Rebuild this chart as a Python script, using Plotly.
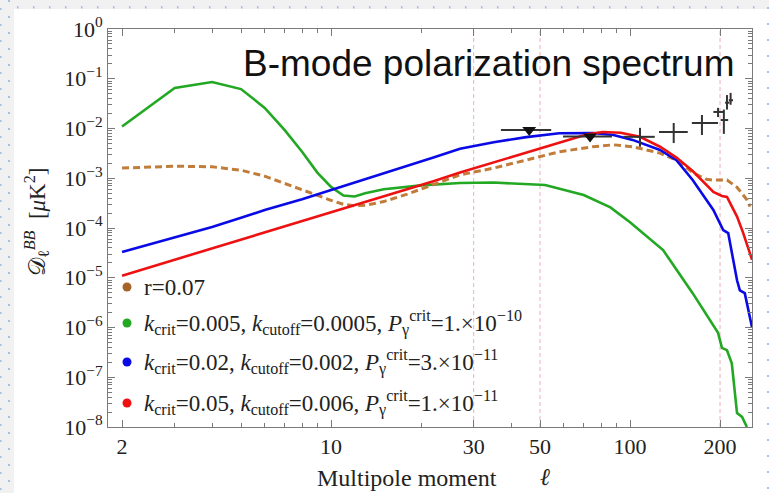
import plotly.graph_objects as go

# ---------------- data ----------------
ell_r = [2, 3, 4, 5, 6, 7, 8, 9, 10, 11, 12, 13, 15, 18, 22, 27, 35, 45, 58, 75, 88, 102,
         126, 143, 162, 180, 190, 211, 228, 246, 252]
dl_r = [1.6e-3, 1.75e-3, 1.7e-3, 1.45e-3, 1.1e-3, 7.8e-4, 5.8e-4, 4.4e-4, 3.6e-4, 3.0e-4,
        2.8e-4, 2.85e-4, 3.4e-4, 4.8e-4, 7.5e-4, 1.17e-3, 1.6e-3, 2.3e-3, 3.4e-3, 4.3e-3,
        4.7e-3, 4.3e-3, 3.2e-3, 2.3e-3, 1.3e-3, 9.5e-4, 9.2e-4, 9.2e-4, 6.6e-4, 3.7e-4, 2.7e-4]

ell_green = [2, 3, 4, 5, 6, 7, 8, 9, 10, 11, 12, 13, 15, 20, 27, 35, 52, 70, 86, 100, 129,
             162, 197, 203, 211, 219, 228, 237, 246]
dl_green = [1.1e-2, 6.5e-2, 8.6e-2, 6.2e-2, 2.6e-2, 9.3e-3, 3.4e-3, 1.3e-3, 6.7e-4, 4.5e-4,
            4.3e-4, 5.0e-4, 6.0e-4, 7.2e-4, 8.0e-4, 8.2e-4, 7.3e-4, 4.6e-4, 2.6e-4, 1.3e-4,
            3.6e-5, 4.9e-6, 7.8e-7, 3.9e-7, 3.5e-7, 1.9e-7, 1.9e-8, 1.6e-8, 1.0e-8]

ell_blue = [2, 3, 4, 5, 6, 8, 10, 13, 17, 22, 27, 35, 45, 58, 75, 88, 102, 126, 143, 162,
            190, 205, 213, 221, 228, 233, 242, 256]
dl_blue = [3.3e-5, 6.4e-5, 1.05e-4, 1.6e-4, 2.3e-4, 3.8e-4, 5.8e-4, 9.5e-4, 1.55e-3, 2.6e-3,
           3.9e-3, 5.3e-3, 6.7e-3, 8.0e-3, 8.1e-3, 7.4e-3, 5.9e-3, 3.7e-3, 2.3e-3, 9.2e-4,
           2.3e-4, 9.1e-5, 7.9e-5, 2.6e-5, 8.9e-6, 5.6e-6, 4.9e-6, 1.0e-6]

ell_red = [2, 3, 4, 5, 6, 8, 10, 13, 17, 22, 27, 35, 45, 58, 72, 81, 93, 108, 126, 143, 162,
           190, 203, 211, 228, 239, 256]
dl_red = [1.1e-5, 2.3e-5, 3.9e-5, 6.0e-5, 8.3e-5, 1.4e-4, 2.1e-4, 3.3e-4, 5.5e-4, 8.7e-4,
          1.3e-3, 2.1e-3, 3.3e-3, 5.3e-3, 7.7e-3, 8.5e-3, 8.2e-3, 6.8e-3, 4.3e-3, 2.6e-3,
          1.4e-3, 5.3e-4, 4.4e-4, 4.2e-4, 1.7e-4, 8e-5, 2.3e-5]

# measured band powers (upper limits drawn as down triangles)
obs_ell = [46, 73.5, 108, 140, 174, 197, 206, 211, 217]
obs_ell_lo = [37, 59.7, 95, 125, 161, 190, 201, 208, 214]
obs_ell_hi = [54.5, 87, 121, 156, 197, 205, 213, 215, 221]
obs_dl = [9.3e-3, 6.9e-3, 6.8e-3, 8.5e-3, 1.29e-2, 2.15e-2, 1.48e-2, 3.3e-2, 3.7e-2]
obs_dl_lo = [None, None, 4.3e-3, 5.1e-3, 7.4e-3, 1.7e-2, 7.8e-3, 2.4e-2, 3.0e-2]
obs_dl_hi = [None, None, 1.03e-2, 1.29e-2, 1.87e-2, 2.6e-2, 2.4e-2, 4.7e-2, 5.2e-2]
obs_upper_limit = [True, True, False, False, False, False, False, False, False]

cut_ell = [30, 50, 200]

legend_labels = [
    "r=0.07",
    "<i>k</i><sub>crit</sub>=0.005, <i>k</i><sub>cutoff</sub>=0.0005, "
    "<i>P</i><sub>γ</sub><sup>crit</sup>=1.×10<sup>−10</sup>",
    "<i>k</i><sub>crit</sub>=0.02, <i>k</i><sub>cutoff</sub>=0.002, "
    "<i>P</i><sub>γ</sub><sup>crit</sup>=3.×10<sup>−11</sup>",
    "<i>k</i><sub>crit</sub>=0.05, <i>k</i><sub>cutoff</sub>=0.006, "
    "<i>P</i><sub>γ</sub><sup>crit</sup>=1.×10<sup>−11</sup>",
]

x_tick_vals = [2, 10, 30, 50, 100, 200]
x_tick_text = ["2", "10", "30", "50", "100", "200"]
y_exponents = [-8, -7, -6, -5, -4, -3, -2, -1, 0]

# ---------------- styling ----------------
W, H = 769, 493
ML, MR, MT, MB = 108, 17, 29, 66
PW, PH = W - ML - MR, H - MT - MB

C_BROWN = "#c27c3a"
C_GREEN = "#22a822"
C_BLUE = "#0a0ae6"
C_RED = "#ee1111"
DOT_COLORS = ["#a5652a", "#22a822", "#0a0ae6", "#ee1111"]
SERIF = "Liberation Serif, Times New Roman, serif"
AX_COL = "#7a7a7a"


def px_x(p):
    return (p - ML) / PW


def px_y(p):
    return (H - MB - p) / PH


fig = go.Figure()

# vertical reference lines
for c in cut_ell:
    fig.add_trace(go.Scatter(x=[c, c], y=[1e-8, 1], mode="lines",
                             line=dict(color="#eab0b8", width=1, dash="4px,3px"),
                             hoverinfo="skip", showlegend=False))

fig.add_trace(go.Scatter(x=ell_green, y=dl_green, mode="lines",
                         line=dict(color=C_GREEN, width=2.6), showlegend=False))
fig.add_trace(go.Scatter(x=ell_r, y=dl_r, mode="lines",
                         line=dict(color=C_BROWN, width=3, dash="7px,4px"), showlegend=False))
fig.add_trace(go.Scatter(x=ell_blue, y=dl_blue, mode="lines",
                         line=dict(color=C_BLUE, width=2.6), showlegend=False))
fig.add_trace(go.Scatter(x=ell_red, y=dl_red, mode="lines",
                         line=dict(color=C_RED, width=2.6), showlegend=False))

# band powers
for i in range(len(obs_ell)):
    ex = dict(type="data", symmetric=False,
              array=[obs_ell_hi[i] - obs_ell[i]], arrayminus=[obs_ell[i] - obs_ell_lo[i]],
              color="#333333", thickness=2, width=0)
    if obs_dl_lo[i] is not None:
        ey = dict(type="data", symmetric=False,
                  array=[obs_dl_hi[i] - obs_dl[i]], arrayminus=[obs_dl[i] - obs_dl_lo[i]],
                  color="#333333", thickness=2, width=0)
    else:
        ey = dict(visible=False)
    if obs_upper_limit[i]:
        mk = dict(symbol="triangle-down", size=12, color="#111111")
    else:
        mk = dict(size=1, color="#333333")
    fig.add_trace(go.Scatter(x=[obs_ell[i]], y=[obs_dl[i]], mode="markers",
                             marker=mk, error_x=ex, error_y=ey, showlegend=False))

shapes = []
# slide surround: gray bands with blue guide dots
shapes.append(dict(type="rect", xref="paper", yref="paper", layer="below",
                   x0=px_x(0), x1=px_x(W), y0=px_y(0), y1=px_y(9),
                   fillcolor="#f1f1f1", line=dict(width=0)))
shapes.append(dict(type="rect", xref="paper", yref="paper", layer="below",
                   x0=px_x(0), x1=px_x(14), y0=px_y(0), y1=px_y(H),
                   fillcolor="#f1f1f1", line=dict(width=0)))
GUIDE = "#a3bfe8"
for gx in range(17, W, 16):
    shapes.append(dict(type="rect", xref="paper", yref="paper", layer="below",
                       x0=px_x(gx), x1=px_x(gx + 1.5), y0=px_y(6), y1=px_y(8.5),
                       fillcolor=GUIDE, line=dict(width=0)))
for gy in range(0, H, 16):
    shapes.append(dict(type="rect", xref="paper", yref="paper", layer="below",
                       x0=px_x(8), x1=px_x(10), y0=px_y(gy), y1=px_y(gy + 2),
                       fillcolor=GUIDE, line=dict(width=0)))
    shapes.append(dict(type="rect", xref="paper", yref="paper", layer="below",
                       x0=px_x(0), x1=px_x(1.5), y0=px_y(gy + 8), y1=px_y(gy + 10),
                       fillcolor=GUIDE, line=dict(width=0)))
    shapes.append(dict(type="rect", xref="paper", yref="paper", layer="below",
                       x0=px_x(767), x1=px_x(769), y0=px_y(gy + 7), y1=px_y(gy + 9),
                       fillcolor=GUIDE, line=dict(width=0)))

annotations = []
legend_y = [287, 323, 362, 403]
for lab, col, yy in zip(legend_labels, DOT_COLORS, legend_y):
    shapes.append(dict(type="circle", xref="paper", yref="paper",
                       xsizemode="pixel", ysizemode="pixel",
                       xanchor=px_x(127), yanchor=px_y(yy),
                       x0=-4.5, x1=4.5, y0=-4.5, y1=4.5,
                       fillcolor=col, line=dict(width=0)))
    annotations.append(dict(text=lab, xref="paper", yref="paper",
                            x=px_x(142), y=px_y(yy), xanchor="left", yanchor="middle",
                            showarrow=False, font=dict(family=SERIF, size=23, color="#222")))

annotations.append(dict(text="B-mode polarization spectrum", xref="paper", yref="paper",
                        x=px_x(489), y=px_y(63), xanchor="center", yanchor="middle",
                        showarrow=False,
                        font=dict(family="Liberation Sans, Arial, sans-serif", size=37,
                                  color="#111")))
annotations.append(dict(text="Multipole moment", xref="paper", yref="paper",
                        x=px_x(407), y=px_y(478), xanchor="center", yanchor="middle",
                        showarrow=False, font=dict(family=SERIF, size=24, color="#222")))
annotations.append(dict(text="<i>ℓ</i>", xref="paper", yref="paper",
                        x=px_x(545), y=px_y(477), xanchor="center", yanchor="middle",
                        showarrow=False, font=dict(family=SERIF, size=24, color="#222")))
annotations.append(dict(text="𝒟<sub>ℓ</sub><sup><i>BB</i></sup>  [<i>μ</i>K<sup>2</sup>]",
                        xref="paper", yref="paper", textangle=-90,
                        x=px_x(36), y=px_y(222), xanchor="center", yanchor="middle",
                        showarrow=False, font=dict(family=SERIF, size=23, color="#222")))

x_minor = [3, 4, 5, 6, 7, 8, 9, 20, 40, 60, 70, 80, 90]
y_minor = [m * 10 ** e for e in y_exponents[:-1] for m in range(2, 10)]

fig.update_layout(
    width=W, height=H,
    margin=dict(l=ML, r=MR, t=MT, b=MB, pad=0),
    paper_bgcolor="white", plot_bgcolor="white",
    shapes=shapes, annotations=annotations,
    showlegend=False,
    xaxis=dict(type="log", range=[0.254, 2.408], showgrid=False, zeroline=False,
               showline=True, linecolor=AX_COL, linewidth=1, mirror="ticks",
               ticks="inside", ticklen=7, tickcolor=AX_COL, tickwidth=1,
               tickmode="array", tickvals=x_tick_vals, ticktext=x_tick_text,
               tickfont=dict(family=SERIF, size=22, color="#222"),
               minor=dict(ticks="inside", ticklen=4, tickcolor=AX_COL,
                          tickmode="array", tickvals=x_minor)),
    yaxis=dict(type="log", range=[-8, 0], showgrid=False, zeroline=False,
               showline=True, linecolor=AX_COL, linewidth=1, mirror="ticks",
               ticks="inside", ticklen=7, tickcolor=AX_COL, tickwidth=1,
               tickmode="array", tickvals=[10.0 ** e for e in y_exponents],
               ticktext=["10<sup>" + str(e).replace("-", "−") + "</sup>" for e in y_exponents],
               tickfont=dict(family=SERIF, size=22, color="#222"),
               minor=dict(ticks="inside", ticklen=4, tickcolor=AX_COL,
                          tickmode="array", tickvals=y_minor)),
)

fig.write_html("out.html")
